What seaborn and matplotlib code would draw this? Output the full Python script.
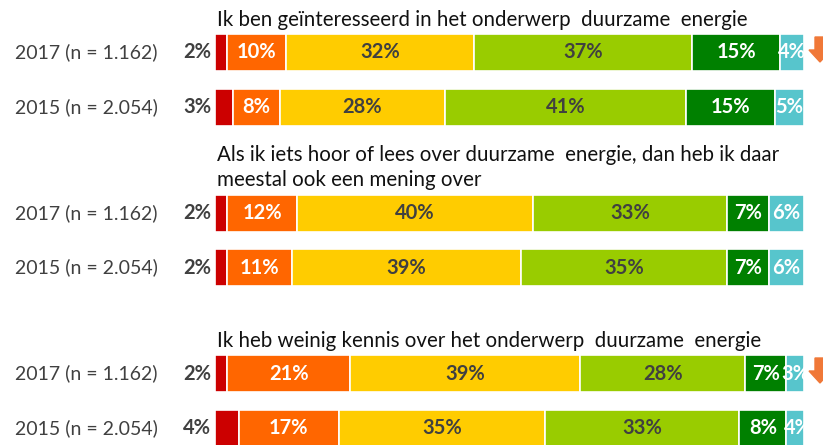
import matplotlib.pyplot as plt
import numpy as np
import seaborn as sns
from matplotlib.patches import Polygon

# data
titles = [
    'Ik ben geïnteresseerd in het onderwerp  duurzame  energie',
    'Als ik iets hoor of lees over duurzame  energie, dan heb ik daar\nmeestal ook een mening over',
    'Ik heb weinig kennis over het onderwerp  duurzame  energie',
]
row_labels = ['2017 (n = 1.162)', '2015 (n = 2.054)']
values = [
    [[2, 10, 32, 37, 15, 4], [3, 8, 28, 41, 15, 5]],
    [[2, 12, 40, 33, 7, 6], [2, 11, 39, 35, 7, 6]],
    [[2, 21, 39, 28, 7, 3], [4, 17, 35, 33, 8, 4]],
]
arrow_down = [[True, False], [False, False], [True, False]]

colors = ['#CC0000', '#FF6600', '#FFCC00', '#99CC00', '#008000', '#57C5CC']
text_colors = ['#404040', 'white', '#404040', '#404040', 'white', 'white']

sns.set_theme(style='white')
plt.rcParams['font.family'] = ['Lato', 'DejaVu Sans']

W, H = 823, 445
fig = plt.figure(figsize=(W / 100, H / 100), dpi=100)
ax = fig.add_axes([0, 0, 1, 1])
x0, scale = 215, 5.89          # pixel of 0%, pixels per percent


def px(x):
    return (x - x0) / scale


ax.set_xlim(px(0), px(W))
ax.set_ylim(H, 0)
ax.axis('off')

bar_h = 37
for g, group in enumerate(values):
    top = 34 + g * 160.5
    for r, row in enumerate(group):
        yc = top + bar_h / 2 + r * 54.5
        left = np.concatenate([[0], np.cumsum(row)[:-1]])
        for k, v in enumerate(row):
            w = min(v, 100 - left[k])
            ax.barh(yc, w, left=left[k], height=bar_h, color=colors[k],
                    edgecolor='white', linewidth=1.2)
            if k == 0:
                ax.text(px(211), yc, f'{v}%', ha='right', va='center',
                        fontsize=14.5, fontweight='bold', color='#404040')
            else:
                ax.text(left[k] + v / 2, yc, f'{v}%', ha='center', va='center',
                        fontsize=14.5, fontweight='bold', color=text_colors[k])
        ax.text(px(15), yc, row_labels[r], ha='left', va='center',
                fontsize=14, color='#404040')
        if arrow_down[g][r]:
            ay = yc - bar_h / 2 + 3
            cx = 820
            pts = [(cx - 5, ay), (cx + 5, ay), (cx + 5, ay + 13),
                   (cx + 11, ay + 13), (cx, ay + 25), (cx - 11, ay + 13),
                   (cx - 5, ay + 13)]
            ax.add_patch(Polygon([(px(a), b) for a, b in pts], closed=True,
                                 color='#F07838', clip_on=False))
    ax.text(px(217), top - 4, titles[g], ha='left', va='bottom',
            fontsize=14.8, color='#111111', linespacing=1.36,
            multialignment='left')

fig.savefig('out.png', dpi=100)
